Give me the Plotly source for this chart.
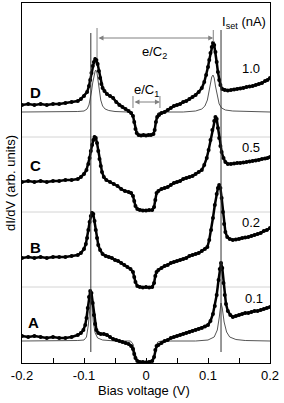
import plotly.graph_objects as go

# ---- data (bias in V, dI/dV in arb. units, each curve relative to its own zero) ----
D_pts = [(-0.2,32),(-0.19,33),(-0.18,32),(-0.17,33),(-0.16,32),(-0.15,33),(-0.14,33),(-0.13,34),
         (-0.12,35),(-0.11,36),(-0.105,38),(-0.1,41),(-0.095,45),(-0.092,51),(-0.09,57),(-0.088,64),
         (-0.086,71),(-0.084,75),(-0.082,78),(-0.08,77),(-0.078,73),(-0.076,66),(-0.074,59),(-0.072,53),
         (-0.07,49),(-0.067,46),(-0.063,43),(-0.058,41),(-0.053,39),(-0.048,35),(-0.043,32),(-0.038,30),
         (-0.033,28),(-0.028,26),(-0.024,24),(-0.021,21),(-0.019,15),(-0.017,8),(-0.015,4),(-0.012,2),
         (-0.008,1.5),(-0.004,2),(0,1.5),(0.004,2),(0.008,2),(0.012,3),(0.014,7),(0.016,15),(0.018,20),
         (0.021,22),(0.025,24),(0.03,25),(0.035,27),(0.04,29),(0.045,31),(0.05,32),(0.055,33),(0.06,35),
         (0.065,36),(0.07,38),(0.075,40),(0.08,42),(0.085,45),(0.09,49),(0.094,55),(0.097,62),(0.1,70),
         (0.102,77),(0.104,84),(0.106,90),(0.108,94),(0.11,92),(0.112,85),(0.114,75),(0.116,65),(0.118,57),
         (0.12,52),(0.123,48),(0.127,47),(0.132,46.5),(0.137,47),(0.142,47.5),(0.147,48),(0.152,48.5),
         (0.157,49),(0.162,50),(0.167,50.5),(0.172,51),(0.177,52),(0.182,53),(0.187,54),(0.192,56),
         (0.196,57),(0.2,59)]
D_fit = [(-0.2,25),(-0.15,25),(-0.11,25.5),(-0.1,26),(-0.095,28),(-0.092,32),(-0.09,37),(-0.088,45),
         (-0.086,54),(-0.084,61),(-0.082,66),(-0.081,67),(-0.079,64),(-0.077,55),(-0.075,45),(-0.073,37),
         (-0.07,31),(-0.066,28),(-0.06,26.5),(-0.05,25.5),(-0.03,25),(-0.024,24.5),(-0.021,22),(-0.018,12),
         (-0.015,4),(-0.012,2),(0.012,2),(0.014,7),(0.016,17),(0.019,24),(0.025,25),(0.06,25),(0.08,26),
         (0.09,28),(0.095,31),(0.099,37),(0.102,46),(0.104,54),(0.106,60),(0.108,62),(0.11,59),(0.112,51),
         (0.115,40),(0.118,33),(0.122,29),(0.128,27),(0.14,26),(0.16,25.5),(0.2,25)]
C_pts = [(-0.2,30),(-0.19,31),(-0.18,30),(-0.17,31),(-0.16,30),(-0.15,31),(-0.14,31),(-0.13,32),
         (-0.12,32),(-0.11,33),(-0.105,35),(-0.1,38),(-0.096,42),(-0.093,48),(-0.091,54),(-0.089,61),
         (-0.087,67),(-0.085,72),(-0.083,75),(-0.081,74),(-0.079,69),(-0.077,61),(-0.075,53),(-0.073,46),
         (-0.071,40),(-0.068,35),(-0.064,32),(-0.058,30),(-0.052,28),(-0.046,26),(-0.04,23),(-0.034,21),
         (-0.028,20),(-0.024,19),(-0.021,16),(-0.019,11),(-0.017,6),(-0.014,3),(-0.01,2),(-0.005,1.5),
         (0,1.5),(0.005,2),(0.01,2),(0.013,5),(0.015,12),(0.017,19),(0.02,21),(0.025,23),(0.03,24),
         (0.035,25),(0.04,27),(0.045,29),(0.05,30),(0.055,31),(0.06,33),(0.065,34),(0.07,35),(0.075,36),
         (0.08,38),(0.085,40),(0.09,42),(0.094,47),(0.098,54),(0.101,62),(0.104,72),(0.107,82),(0.11,91),
         (0.112,95),(0.114,93),(0.116,84),(0.118,74),(0.12,66),(0.122,60),(0.125,54),(0.128,50),(0.132,48),
         (0.137,48),(0.142,48.5),(0.147,49),(0.152,49),(0.157,49.5),(0.162,50),(0.167,50.5),(0.172,51),
         (0.177,51.5),(0.182,52),(0.187,53),(0.192,53.5),(0.196,54),(0.2,55)]
B_pts = [(-0.2,29),(-0.19,30),(-0.18,29),(-0.17,30),(-0.16,29),(-0.15,30),(-0.14,30),(-0.13,30),
         (-0.12,31),(-0.11,32),(-0.105,34),(-0.1,38),(-0.097,43),(-0.095,49),(-0.093,57),(-0.091,65),
         (-0.089,71),(-0.087,74),(-0.085,73),(-0.083,66),(-0.081,57),(-0.079,49),(-0.077,42),(-0.074,37),
         (-0.07,33),(-0.065,31),(-0.06,30),(-0.055,29),(-0.05,27),(-0.045,26),(-0.04,24),(-0.035,22),
         (-0.03,20),(-0.025,18),(-0.021,15),(-0.019,10),(-0.017,5),(-0.014,1),(-0.01,0),(-0.005,-0.5),
         (0,0),(0.005,-0.5),(0.01,0),(0.013,4),(0.015,11),(0.017,15),(0.02,17),(0.025,19),(0.03,21),
         (0.035,22),(0.04,24),(0.045,25),(0.05,26),(0.055,27),(0.06,28),(0.065,29),(0.07,31),(0.075,32),
         (0.08,33),(0.085,34),(0.09,36),(0.095,38),(0.099,40),(0.102,47),(0.105,57),(0.108,69),(0.111,82),
         (0.114,93),(0.116,99),(0.118,102),(0.12,99),(0.122,89),(0.124,75),(0.126,63),(0.128,55),
         (0.131,50),(0.135,48),(0.14,47),(0.145,47.5),(0.15,48),(0.155,49),(0.16,49.5),(0.165,50),
         (0.17,51),(0.175,52),(0.18,53),(0.185,54),(0.19,56),(0.195,57),(0.2,59)]
A_pts = [(-0.2,26),(-0.19,25),(-0.18,26),(-0.17,25),(-0.16,24),(-0.15,25),(-0.14,24),(-0.13,24),
         (-0.12,25),(-0.11,27),(-0.105,29),(-0.101,32),(-0.098,37),(-0.096,44),(-0.094,54),(-0.092,65),
         (-0.09,71),(-0.088,69),(-0.086,59),(-0.084,47),(-0.082,38),(-0.08,32),(-0.077,29),(-0.073,28),
         (-0.068,28),(-0.063,27),(-0.058,25),(-0.053,23),(-0.048,22),(-0.043,21),(-0.038,20),(-0.033,19),
         (-0.028,18),(-0.024,16),(-0.021,13),(-0.019,8),(-0.017,4),(-0.014,1),(-0.01,0),(-0.005,0),
         (0,-0.5),(0.005,0),(0.01,1),(0.013,5),(0.015,12),(0.017,16),(0.02,17),(0.025,19),(0.03,21),
         (0.035,22),(0.04,24),(0.045,25),(0.05,26),(0.055,27),(0.06,28),(0.065,29),(0.07,30),(0.075,31),
         (0.08,32),(0.085,33),(0.09,34),(0.095,35.5),(0.1,37),(0.104,41),(0.108,48),(0.111,56),(0.114,67),
         (0.117,82),(0.119,93),(0.121,99),(0.123,94),(0.125,79),(0.127,67),(0.129,58),(0.132,51),
         (0.136,47),(0.14,45),(0.145,46),(0.15,47),(0.155,48),(0.16,49),(0.165,49),(0.17,50),(0.175,51),
         (0.18,51),(0.185,52),(0.19,53),(0.195,54),(0.2,55)]
A_fit = [(-0.2,21),(-0.15,21),(-0.11,21.5),(-0.1,22),(-0.096,25),(-0.093,37),(-0.091,52),(-0.089,64),
         (-0.087,57),(-0.085,40),(-0.082,29),(-0.078,24),(-0.07,22),(-0.05,21),(-0.025,21),(-0.021,18),
         (-0.018,10),(-0.015,3),(-0.012,0.5),(0.012,1),(0.014,7),(0.016,15),(0.019,20),(0.025,21),
         (0.08,21),(0.1,22),(0.11,25),(0.115,32),(0.118,44),(0.12,56),(0.121,59),(0.123,54),(0.126,40),
         (0.13,30),(0.135,25),(0.145,22.5),(0.16,21.5),(0.2,21)]

curve_names = ["A", "B", "C", "D"]
curve_data = [A_pts, B_pts, C_pts, D_pts]
iset_labels = ["0.1", "0.2", "0.5", "1.0"]
offsets = [0, 75, 150, 225]          # vertical shift of each curve
x_ticks = [-0.2, -0.1, 0.0, 0.1, 0.2]
peak_lines = [-0.089, 0.121]

FONT = "Arial, Liberation Sans, sans-serif"
fig = go.Figure()

shapes = []
for off in offsets[1:]:
    shapes.append(dict(type="line", xref="paper", yref="y", x0=0, x1=1, y0=off, y1=off,
                       line=dict(color="#d4d4d4", width=1), layer="below"))

for pts, off in [(A_fit, offsets[0]), (D_fit, offsets[3])]:
    v, g = zip(*pts)
    fig.add_trace(go.Scatter(x=list(v), y=[gi + off for gi in g], mode="lines",
                             line=dict(color="#555555", width=1), hoverinfo="skip"))

for pts, off in zip(curve_data, offsets):
    v, g = zip(*pts)
    fig.add_trace(go.Scatter(x=list(v), y=[gi + off for gi in g], mode="lines+markers",
                             line=dict(color="black", width=2.5),
                             marker=dict(color="black", size=4)))

shapes.append(dict(type="line", x0=peak_lines[0], x1=peak_lines[0], y0=10, y1=329,
                   line=dict(color="#333333", width=1)))
shapes.append(dict(type="line", x0=peak_lines[1], x1=peak_lines[1], y0=10, y1=332,
                   line=dict(color="#333333", width=1)))
shapes.append(dict(type="line", x0=-0.079, x1=-0.079, y0=304, y1=334, line=dict(color="#808080", width=1)))
shapes.append(dict(type="line", x0=0.1085, x1=0.1085, y0=320, y1=332, line=dict(color="#808080", width=1)))
shapes.append(dict(type="line", x0=-0.021, x1=-0.021, y0=254, y1=266, line=dict(color="#808080", width=1)))
shapes.append(dict(type="line", x0=0.0225, x1=0.0225, y0=254, y1=266, line=dict(color="#808080", width=1)))

ann = []
for (xa, xb, yy) in [(-0.079, 0.1085, 324), (-0.021, 0.0225, 260)]:
    ann.append(dict(x=xb, y=yy, ax=xa, ay=yy, xref="x", yref="y", axref="x", ayref="y",
                    text="", showarrow=True, arrowhead=2, arrowside="end+start",
                    arrowsize=1, arrowwidth=1, arrowcolor="#808080", standoff=0, startstandoff=0))
ann.append(dict(x=0.0145, y=310, xref="x", yref="y", text="e/C<sub>2</sub>", showarrow=False,
                font=dict(size=13, color="black")))
ann.append(dict(x=0.0, y=272, xref="x", yref="y", text="e/C<sub>1</sub>", showarrow=False,
                font=dict(size=13, color="black")))

letter_pos = [(-0.182, 40), (-0.179, 115), (-0.179, 197), (-0.179, 270)]
for name, (lx, ly) in zip(curve_names, letter_pos):
    ann.append(dict(x=lx, y=ly, xref="x", yref="y", text=f"<b>{name}</b>", showarrow=False,
                    font=dict(size=15, color="black")))
iset_pos = [(0.174, 64), (0.169, 140), (0.169, 215), (0.169, 294)]
for lab, (lx, ly) in zip(iset_labels, iset_pos):
    ann.append(dict(x=lx, y=ly, xref="x", yref="y", text=lab, showarrow=False,
                    font=dict(size=13, color="black")))
ann.append(dict(x=0.158, y=340, xref="x", yref="y", text="I<sub>set</sub> (nA)", showarrow=False,
                font=dict(size=13, color="black")))
ann.append(dict(x=-0.048, y=0.5, xref="paper", yref="paper", xanchor="center", yanchor="middle",
                text="dI/dV (arb. units)", textangle=-90, showarrow=False,
                font=dict(size=13, color="black")))
ann.append(dict(x=0.49, y=-0.075, xref="paper", yref="paper", xanchor="center", yanchor="middle",
                text="Bias voltage (V)", showarrow=False, font=dict(size=13, color="black")))

fig.update_layout(
    width=284, height=403,
    margin=dict(l=22, r=14, t=3, b=40),
    paper_bgcolor="white", plot_bgcolor="white",
    showlegend=False,
    font=dict(family=FONT, size=13, color="black"),
    shapes=shapes, annotations=ann,
    xaxis=dict(range=[-0.2, 0.2], tickvals=x_ticks, ticktext=[f"{t:.1f}" if t != 0 else "0" for t in x_ticks],
               ticks="inside", ticklen=5, tickcolor="black",
               minor=dict(tickvals=[-0.15, -0.05, 0.05, 0.15], ticks="inside", ticklen=5, tickcolor="black"),
               showline=True, linecolor="black", linewidth=1, mirror=True, showgrid=False, zeroline=False,
               tickfont=dict(size=13)),
    yaxis=dict(range=[-1, 359], showticklabels=False, ticks="", showline=True, linecolor="black",
               linewidth=1, mirror=True, showgrid=False, zeroline=False),
)

fig.write_html("out.html", config={"displayModeBar": False},
               post_script="document.body.style.margin='0';document.body.style.overflow='hidden';")
